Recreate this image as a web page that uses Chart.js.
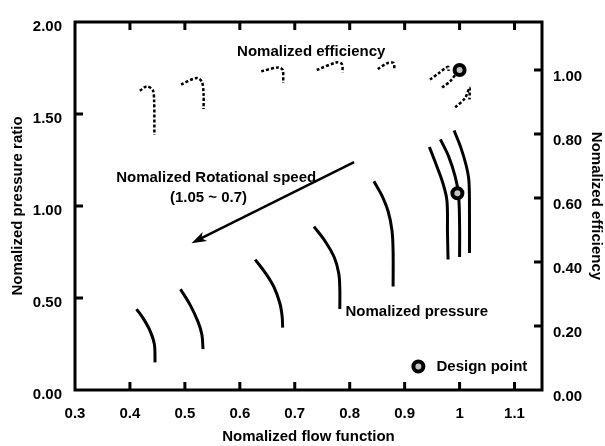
<!DOCTYPE html>
<html>
<head>
<meta charset="utf-8">
<script src="https://cdn.jsdelivr.net/npm/chart.js@4/dist/chart.umd.min.js"></script>
<style>
  html, body { margin: 0; padding: 0; background: #fff; }
  #wrap { width: 605px; height: 446px; }
</style>
</head>
<body>
<div id="wrap"><canvas id="map"></canvas></div>
<script>
// tick values
const flowTicks = [0.3, 0.4, 0.5, 0.6, 0.7, 0.8, 0.9, 1.0, 1.1];
const ratioTicks = [0, 0.5, 1.0, 1.5, 2.0];
const effTicks = [0, 0.2, 0.4, 0.6, 0.8, 1.0];

// pressure ratio lines, one per rotational speed (0.7 ... 1.05)
const pressureFlow = [
    [0.412, 0.425, 0.437, 0.4445, 0.4457],
    [0.492, 0.510, 0.524, 0.531, 0.533],
    [0.628, 0.648, 0.662, 0.673, 0.677, 0.678],
    [0.735, 0.755, 0.772, 0.780, 0.782, 0.782],
    [0.844, 0.858, 0.870, 0.877, 0.879, 0.879],
    [0.945, 0.958, 0.970, 0.977, 0.978, 0.979],
    [0.965, 0.980, 0.992, 0.998, 1.000, 1.000],
    [0.990, 1.002, 1.012, 1.017, 1.018, 1.018]
];
const pressureRatio = [
    [0.440, 0.385, 0.319, 0.248, 0.150],
    [0.548, 0.460, 0.370, 0.300, 0.222],
    [0.709, 0.630, 0.560, 0.470, 0.400, 0.339],
    [0.888, 0.810, 0.720, 0.634, 0.550, 0.440],
    [1.134, 1.060, 0.970, 0.866, 0.750, 0.563],
    [1.321, 1.220, 1.120, 1.028, 0.850, 0.709],
    [1.362, 1.270, 1.160, 1.064, 0.900, 0.723],
    [1.410, 1.320, 1.220, 1.135, 0.950, 0.745]
];

// efficiency lines
const effFlow = [
    [0.418, 0.431, 0.4415, 0.444, 0.4445],
    [0.493, 0.5217, 0.531, 0.534, 0.534],
    [0.639, 0.670, 0.678, 0.679],
    [0.740, 0.777, 0.786, 0.787],
    [0.851, 0.868, 0.880, 0.881],
    [0.946, 0.962, 0.979, 0.980],
    [0.968, 0.983, 0.995],
    [0.992, 1.010, 1.018, 1.018]
];
const effValue = [
    [0.935, 0.949, 0.937, 0.906, 0.797],
    [0.955, 0.975, 0.963, 0.926, 0.878],
    [0.996, 1.008, 1.000, 0.960],
    [1.000, 1.024, 1.018, 0.993],
    [1.003, 1.021, 1.022, 1.000],
    [0.970, 0.990, 1.010, 0.997],
    [0.945, 0.965, 0.991],
    [0.883, 0.912, 0.945, 0.908]
];

// design point
const designFlow = 0.996;
const designRatio = 1.069;
const designEff = 1.0;

const FONT = '"Liberation Sans", Arial, sans-serif';
Chart.defaults.font.family = FONT;
Chart.defaults.font.size = 15;
Chart.defaults.font.weight = 'bold';
Chart.defaults.color = '#000';

const toPoints = (xs, ys) => xs.map((v, i) => ({ x: v, y: ys[i] }));

const marker = {
    pointStyle: 'circle',
    pointRadius: 5,
    pointBorderWidth: 4,
    pointBorderColor: '#000',
    pointBackgroundColor: '#c4c4c4',
    showLine: false
};

const datasets = [
    { data: [{ x: designFlow, y: designRatio }], yAxisID: 'y', ...marker },
    { data: [{ x: designFlow + 0.004, y: designEff }], yAxisID: 'y2', ...marker }
];

pressureFlow.forEach((xs, i) => {
    datasets.push({
        data: toPoints(xs, pressureRatio[i]),
        yAxisID: 'y',
        showLine: true,
        borderColor: '#000',
        borderWidth: 3,
        pointRadius: 0,
        tension: 0.35
    });
});

effFlow.forEach((xs, i) => {
    datasets.push({
        data: toPoints(xs, effValue[i]),
        yAxisID: 'y2',
        showLine: true,
        borderColor: '#000',
        borderWidth: 2.5,
        borderDash: [3, 2],
        pointRadius: 0,
        tension: 0.3
    });
});

// frame, inward ticks and notes
const decor = {
    id: 'decor',
    afterDatasetsDraw(chart) {
        const { ctx, chartArea: a, scales: { x, y, y2 } } = chart;
        ctx.save();
        ctx.strokeStyle = '#000';
        ctx.fillStyle = '#000';
        ctx.lineWidth = 3;
        ctx.strokeRect(a.left, a.top, a.right - a.left, a.bottom - a.top);

        ctx.beginPath();
        flowTicks.slice(1).forEach(v => {
            const px = x.getPixelForValue(v);
            ctx.moveTo(px, a.bottom); ctx.lineTo(px, a.bottom - 8);
            ctx.moveTo(px, a.top); ctx.lineTo(px, a.top + 8);
        });
        ratioTicks.slice(1, -1).forEach(v => {
            const py = y.getPixelForValue(v);
            ctx.moveTo(a.left, py); ctx.lineTo(a.left + 8, py);
        });
        effTicks.slice(1).forEach(v => {
            const py = y2.getPixelForValue(v);
            ctx.moveTo(a.right, py); ctx.lineTo(a.right - 8, py);
        });
        ctx.stroke();

        // arrow for speed direction
        const x0 = x.getPixelForValue(0.808), y0 = y.getPixelForValue(1.238);
        const x1 = x.getPixelForValue(0.512), y1 = y.getPixelForValue(0.798);
        const ang = Math.atan2(y1 - y0, x1 - x0);
        ctx.lineWidth = 2.5;
        ctx.beginPath();
        ctx.moveTo(x0, y0);
        ctx.lineTo(x1 - 10 * Math.cos(ang), y1 - 10 * Math.sin(ang));
        ctx.stroke();
        ctx.beginPath();
        ctx.moveTo(x1, y1);
        ctx.lineTo(x1 - 15 * Math.cos(ang) + 5 * Math.sin(ang), y1 - 15 * Math.sin(ang) - 5 * Math.cos(ang));
        ctx.lineTo(x1 - 11 * Math.cos(ang), y1 - 11 * Math.sin(ang));
        ctx.lineTo(x1 - 15 * Math.cos(ang) - 5 * Math.sin(ang), y1 - 15 * Math.sin(ang) + 5 * Math.cos(ang));
        ctx.closePath();
        ctx.fill();

        ctx.font = 'bold 15px ' + FONT;
        ctx.textBaseline = 'middle';
        ctx.textAlign = 'center';
        ctx.fillText('Nomalized efficiency', x.getPixelForValue(0.730), y.getPixelForValue(1.84));
        ctx.fillText('Nomalized Rotational speed', x.getPixelForValue(0.557), y.getPixelForValue(1.152));
        ctx.fillText('(1.05 ~ 0.7)', x.getPixelForValue(0.543), y.getPixelForValue(1.045));
        ctx.fillText('Nomalized pressure', x.getPixelForValue(0.922), y.getPixelForValue(0.422));

        // legend
        const lx = x.getPixelForValue(0.925), ly = y.getPixelForValue(0.128);
        ctx.beginPath();
        ctx.arc(lx, ly, 5, 0, Math.PI * 2);
        ctx.fillStyle = '#c4c4c4';
        ctx.fill();
        ctx.lineWidth = 4;
        ctx.stroke();
        ctx.fillStyle = '#000';
        ctx.textAlign = 'left';
        ctx.fillText('Design point', x.getPixelForValue(0.958), ly);
        ctx.restore();
    }
};

const noGrid = { display: false, drawTicks: false };

new Chart(document.getElementById('map'), {
    type: 'scatter',
    data: { datasets },
    options: {
        responsive: true,
        maintainAspectRatio: false,
        animation: false,
        layout: { padding: { top: 15, left: 0, right: 0, bottom: 0 } },
        plugins: { legend: { display: false }, tooltip: { enabled: false } },
        scales: {
            x: {
                type: 'linear',
                min: 0.3,
                max: 1.15,
                grid: noGrid,
                border: { display: false },
                afterBuildTicks: s => { s.ticks = flowTicks.map(v => ({ value: v })); },
                afterFit: s => { s.height = 56; },
                ticks: { padding: 15, callback: v => String(+v.toFixed(1)) },
                title: { display: true, text: 'Nomalized flow function', padding: 0 }
            },
            y: {
                type: 'linear',
                position: 'left',
                min: 0,
                max: 2,
                grid: noGrid,
                border: { display: false },
                afterBuildTicks: s => { s.ticks = ratioTicks.map(v => ({ value: v })); },
                afterFit: s => { s.width = 75; },
                ticks: { padding: 13, labelOffset: 5, callback: v => v.toFixed(2) },
                title: { display: true, text: 'Nomalized pressure ratio', padding: { top: 9, bottom: 0 } }
            },
            y2: {
                type: 'linear',
                position: 'right',
                min: 0,
                max: 1.15,
                grid: noGrid,
                border: { display: false },
                afterBuildTicks: s => { s.ticks = effTicks.map(v => ({ value: v })); },
                afterFit: s => { s.width = 63; },
                ticks: { padding: 11, labelOffset: 7, callback: v => v.toFixed(2) },
                title: { display: true, text: 'Nomalized efficiency', padding: 0 }
            }
        }
    },
    plugins: [decor]
});
</script>
</body>
</html>
